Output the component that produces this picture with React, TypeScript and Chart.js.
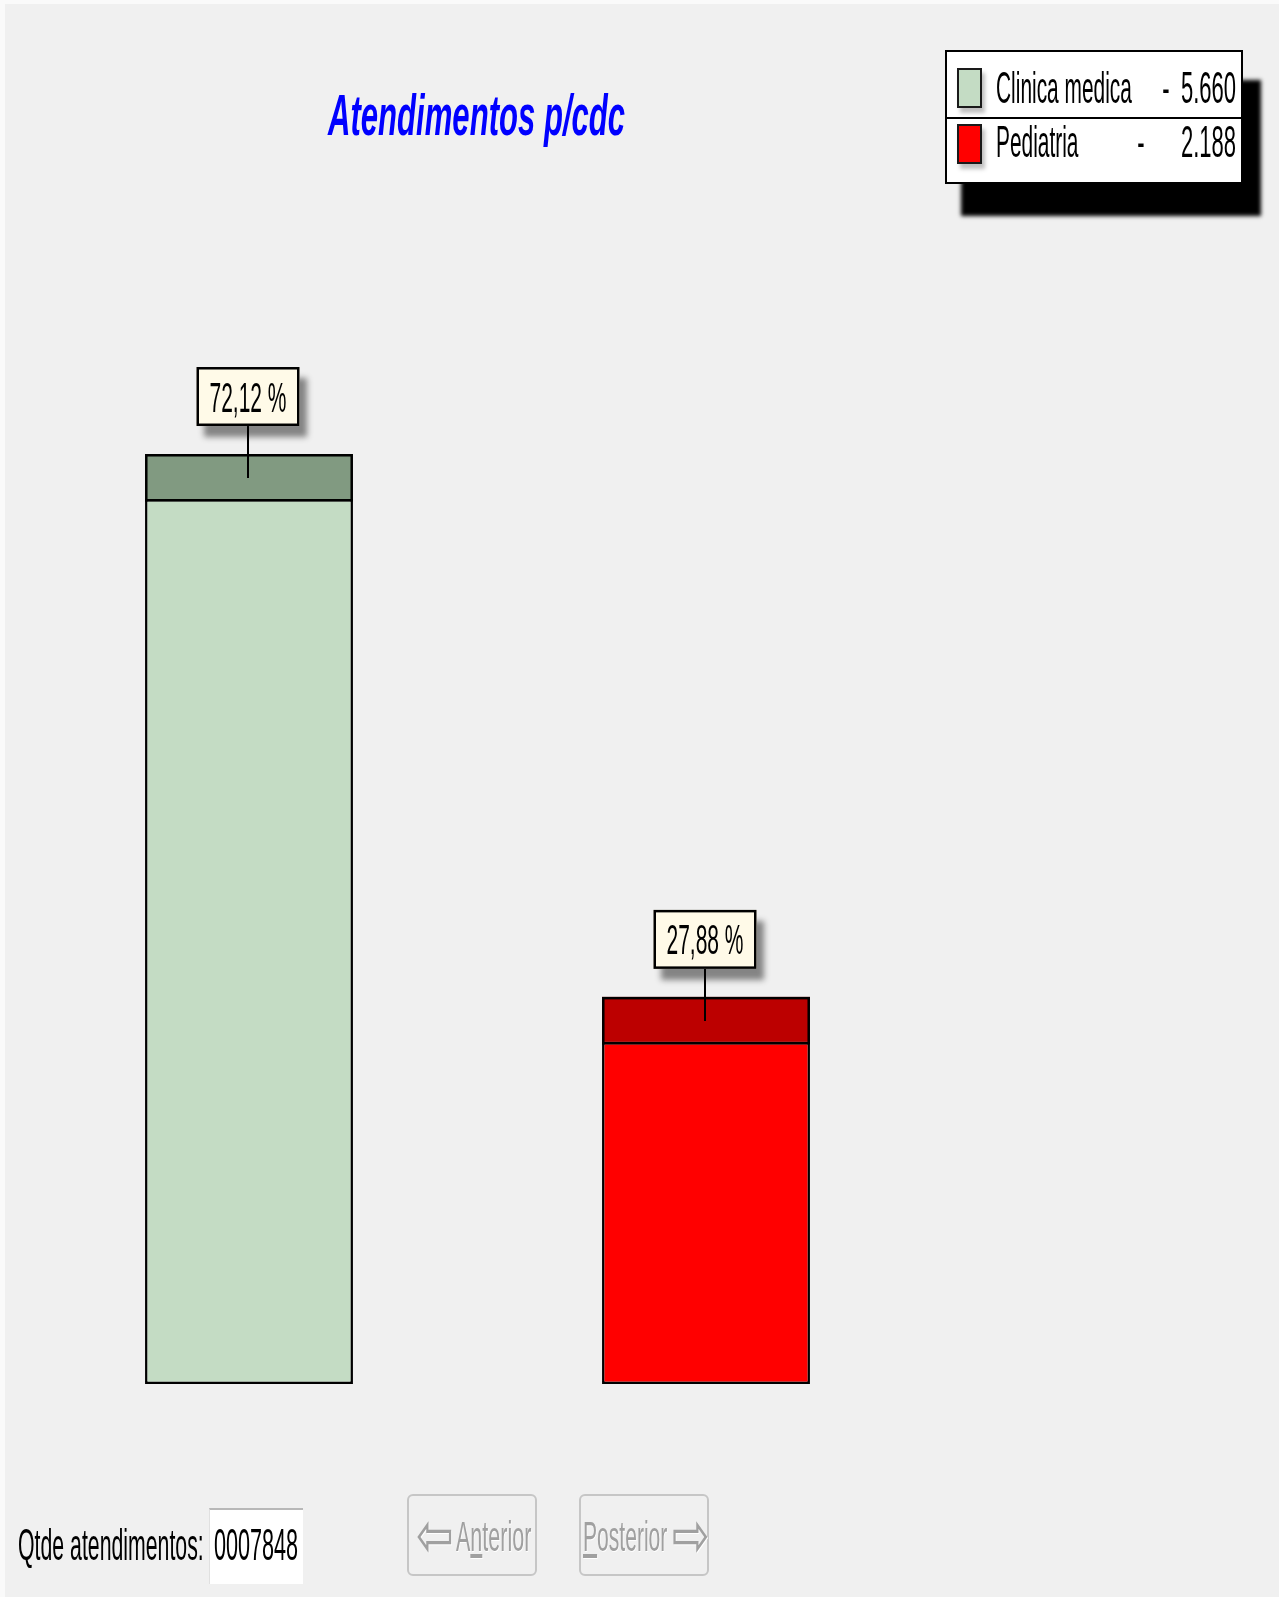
import React, { useEffect, useRef } from "react";
import { Chart, registerables } from "chart.js";

Chart.register(...registerables);

const categories = ["Clinica medica", "Pediatria"];
const values = [5660, 2188];
const frontColors = ["#c4dcc4", "#ff0000"];
const topColors = ["#819a81", "#bc0000"];
const titleText = "Atendimentos p/cdc";
const countLabel = "Qtde atendimentos:";
const prevLabel = "Anterior";
const nextLabel = "Posterior";

const total = values.reduce((a, b) => a + b, 0);
const fmtThousands = (v: number) => String(v).replace(/\B(?=(\d{3})+(?!\d))/g, ".");
const fmtPct = (v: number) => ((v / total) * 100).toFixed(2).replace(".", ",") + " %";

const FONT = '"Liberation Sans", Arial, sans-serif';

function Txt(props: {
  x: number;
  base: number;
  fs: number;
  sx: number;
  align?: "left" | "right" | "center";
  style?: React.CSSProperties;
  children: React.ReactNode;
}) {
  const { x, base, fs, sx, align = "left", style, children } = props;
  const top = base - 0.8465 * fs;
  const W = 2000;
  let left = x;
  if (align === "right") left = x - W;
  if (align === "center") left = x - W / 2;
  return (
    <div
      style={{
        position: "absolute",
        left,
        top,
        width: W,
        height: fs,
        lineHeight: `${fs}px`,
        fontSize: fs,
        fontFamily: FONT,
        whiteSpace: "nowrap",
        textAlign: align,
        transform: `scaleX(${sx})`,
        transformOrigin: align === "right" ? "right center" : align === "center" ? "center center" : "left center",
        color: "#000",
        ...style,
      }}
    >
      {children}
    </div>
  );
}

const capPlugin = {
  id: "capAndCallout",
  afterDatasetsDraw(chart: any) {
    const ctx = chart.ctx as CanvasRenderingContext2D;
    const meta = chart.getDatasetMeta(0);
    const depth = 45;
    meta.data.forEach((bar: any, i: number) => {
      const { x, y, width } = bar.getProps(["x", "y", "width"], true);
      const left = x - width / 2;
      ctx.save();
      ctx.fillStyle = topColors[i];
      ctx.fillRect(left, y - depth, width, depth);
      ctx.lineWidth = 2.5;
      ctx.strokeStyle = "#000";
      ctx.strokeRect(left + 1.25, y - depth + 1.25, width - 2.5, depth);
      const bw = 103;
      const bh = 59;
      const cx = x - 1;
      const boxBottom = y - depth - 28;
      const boxTop = boxBottom - bh;
      ctx.beginPath();
      ctx.moveTo(cx, boxBottom);
      ctx.lineTo(cx, y - depth + 24);
      ctx.lineWidth = 2;
      ctx.strokeStyle = "#000";
      ctx.stroke();
      ctx.save();
      ctx.shadowColor = "rgba(0,0,0,0.45)";
      ctx.shadowBlur = 6;
      ctx.shadowOffsetX = 7;
      ctx.shadowOffsetY = 11;
      ctx.fillStyle = "#fffae8";
      ctx.fillRect(cx - bw / 2, boxTop, bw, bh);
      ctx.restore();
      ctx.fillStyle = "#fffae8";
      ctx.fillRect(cx - bw / 2, boxTop, bw, bh);
      ctx.strokeStyle = "#000";
      ctx.lineWidth = 2.5;
      ctx.strokeRect(cx - bw / 2 + 1.25, boxTop + 1.25, bw - 2.5, bh - 2.5);
      ctx.save();
      ctx.translate(cx, boxTop + bh / 2 + 15);
      ctx.scale(0.5, 1);
      ctx.font = `42px ${FONT}`;
      ctx.fillStyle = "#000";
      ctx.textAlign = "center";
      ctx.textBaseline = "alphabetic";
      ctx.fillText(fmtPct(values[i]), 0, 0);
      ctx.restore();
      ctx.restore();
    });
  },
};

export default function App() {
  const ref = useRef<HTMLCanvasElement | null>(null);

  useEffect(() => {
    if (!ref.current) return;
    const chart = new Chart(ref.current, {
      type: "bar",
      data: {
        labels: categories,
        datasets: [
          {
            data: values,
            backgroundColor: frontColors,
            borderColor: "#000",
            borderWidth: 2.5,
            borderSkipped: false,
            barPercentage: 0.455,
            categoryPercentage: 1,
          },
        ],
      },
      options: {
        animation: false,
        responsive: false,
        maintainAspectRatio: false,
        layout: { padding: { left: 20.5, right: 344.5, top: 289.5, bottom: 213 } },
        scales: {
          x: { display: false },
          y: { display: false, min: 0, max: 7000 },
        },
        plugins: { legend: { display: false }, tooltip: { enabled: false }, title: { display: false } },
      },
      plugins: [capPlugin],
    } as any);
    return () => chart.destroy();
  }, []);

  const legendRows = [
    { base: 103.5, swTop: 68, dashX: 1166 },
    { base: 157, swTop: 124, dashX: 1141 },
  ];

  return (
    <div style={{ position: "relative", width: 1279, height: 1597, background: "#fafafa", overflow: "hidden" }}>
      <style>{`html,body{margin:0;padding:0;overflow:hidden;}`}</style>
      <div style={{ position: "absolute", left: 5, top: 4, right: 0, bottom: 0, background: "#f0f0f0" }} />
      <canvas ref={ref} width={1279} height={1597} style={{ position: "absolute", left: 0, top: 0, width: 1279, height: 1597 }} />

      <Txt x={328} base={135} fs={58} sx={0.536} style={{ color: "#0000ff", fontWeight: "bold", fontStyle: "italic" }}>
        {titleText}
      </Txt>

      <div
        style={{
          position: "absolute",
          left: 945,
          top: 50,
          width: 298,
          height: 134,
          boxSizing: "border-box",
          border: "2px solid #000",
          background: "#fff",
          boxShadow: "17px 31px 4px 1px #000",
        }}
      />
      <div style={{ position: "absolute", left: 945, top: 116.5, width: 298, height: 2.5, background: "#000" }} />
      {categories.map((c, i) => (
        <React.Fragment key={c}>
          <div
            style={{
              position: "absolute",
              left: 957,
              top: legendRows[i].swTop,
              width: 25,
              height: 40,
              boxSizing: "border-box",
              border: "2px solid #1a1a1a",
              background: frontColors[i],
              boxShadow: "3px 5px 4px rgba(0,0,0,0.25)",
            }}
          />
          <Txt x={996} base={legendRows[i].base} fs={44} sx={0.475}>
            {c}
          </Txt>
          <Txt x={legendRows[i].dashX} base={legendRows[i].base} fs={44} sx={0.5} align="center">
            -
          </Txt>
          <Txt x={1236} base={legendRows[i].base} fs={44} sx={0.5} align="right">
            {fmtThousands(values[i])}
          </Txt>
        </React.Fragment>
      ))}

      <Txt x={18} base={1560} fs={45} sx={0.473}>
        {countLabel}
      </Txt>
      <div
        style={{
          position: "absolute",
          left: 209,
          top: 1508,
          width: 94,
          height: 76,
          boxSizing: "border-box",
          background: "#fff",
          borderTop: "2px solid #b8b8b8",
          borderLeft: "1px solid #e0e0e0",
        }}
      />
      <Txt x={214} base={1560} fs={45} sx={0.48}>
        {String(total).padStart(7, "0")}
      </Txt>

      <div
        style={{
          position: "absolute",
          left: 407,
          top: 1494,
          width: 130,
          height: 82,
          boxSizing: "border-box",
          border: "2px solid #c6c6c6",
          borderRadius: 6,
          background: "#f0f0f0",
        }}
      />
      <Txt x={416} base={1557} fs={64} sx={0.7} style={{ color: "#a0a0a0", fontFamily: '"DejaVu Sans", sans-serif', textShadow: "1px 1px 0 #fff" }}>
        {"\u21E6"}
      </Txt>
      <Txt x={456} base={1551} fs={43} sx={0.5} style={{ color: "#a0a0a0", textShadow: "1px 1px 0 #fff" }}>
        {prevLabel.slice(0, 1)}
        <span style={{ textDecoration: "underline" }}>{prevLabel.slice(1, 2)}</span>
        {prevLabel.slice(2)}
      </Txt>

      <div
        style={{
          position: "absolute",
          left: 579,
          top: 1494,
          width: 130,
          height: 82,
          boxSizing: "border-box",
          border: "2px solid #c6c6c6",
          borderRadius: 6,
          background: "#f0f0f0",
        }}
      />
      <Txt x={583} base={1551} fs={43} sx={0.49} style={{ color: "#a0a0a0", textShadow: "1px 1px 0 #fff" }}>
        <span style={{ textDecoration: "underline" }}>{nextLabel.slice(0, 1)}</span>
        {nextLabel.slice(1)}
      </Txt>
      <Txt x={672} base={1557} fs={64} sx={0.7} style={{ color: "#a0a0a0", fontFamily: '"DejaVu Sans", sans-serif', textShadow: "1px 1px 0 #fff" }}>
        {"\u21E8"}
      </Txt>
    </div>
  );
}
